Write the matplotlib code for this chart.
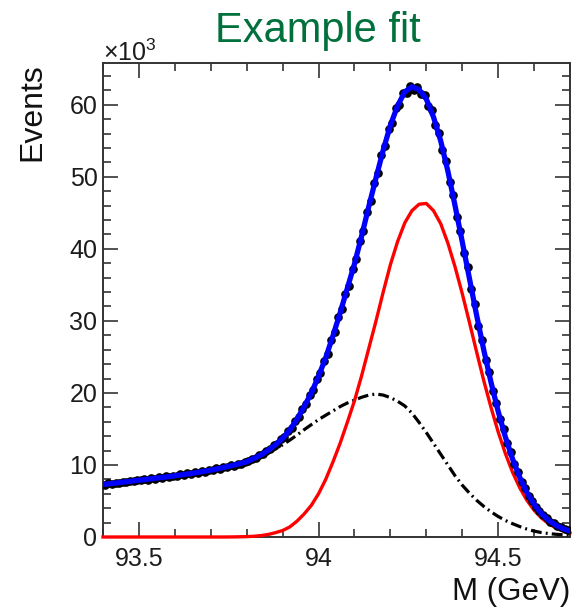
import matplotlib
matplotlib.use("Agg")
import matplotlib.pyplot as plt
import numpy as np
from matplotlib.ticker import MultipleLocator, FixedLocator

plt.rcParams['font.family'] = ['Liberation Sans', 'DejaVu Sans']
plt.rcParams['mathtext.fontset'] = 'custom'
plt.rcParams['mathtext.rm'] = 'Liberation Sans'
plt.rcParams['mathtext.it'] = 'Liberation Sans:italic'

# ---- fit components, sampled every 20 MeV from 93.40 to 94.70 GeV (units: 10^3 events)
fit_mass = np.linspace(93.40, 94.70, 66)

signal_fit = [
    0, 0, 0, 0, 0, 0, 0, 0, 0, 0, 0, 0, 0, 0, 0, 0, 0, 0,
    0.01, 0.03, 0.05, 0.10, 0.20, 0.35, 0.60, 0.90, 1.40, 2.20,
    3.20, 4.40, 6.00, 8.00, 10.40, 13.00, 15.90, 18.90, 22.40, 26.20,
    30.00, 34.00, 37.80, 41.00, 43.60, 45.30, 46.20, 46.30, 45.30, 43.50,
    40.80, 37.50, 33.80, 29.80, 25.70, 21.70, 18.00, 14.60, 11.60, 9.00,
    6.84, 5.10, 3.72, 2.66, 1.86, 1.28, 0.85, 0.56,
]

background_fit = [
    7.30,
    7.40, 7.52, 7.64, 7.76, 7.88,
    8.00, 8.12, 8.24, 8.36, 8.50,
    8.64, 8.78, 8.94, 9.10, 9.28,
    9.48, 9.70, 9.92, 10.15, 10.40,
    10.80, 11.20, 11.70, 12.20, 12.80,
    13.45, 14.15, 14.90, 15.60, 16.30,
    16.90, 17.50, 18.10, 18.60, 19.00,
    19.40, 19.70, 19.85, 19.70, 19.35,
    18.85, 18.20, 17.20, 15.90, 14.50,
    13.00, 11.50, 10.00, 8.50, 7.20,
    6.10, 5.10, 4.25, 3.50, 2.85,
    2.30, 1.85, 1.45, 1.10, 0.82,
    0.62, 0.48, 0.38, 0.31, 0.26,
]

# ---- binned data: 130 bins of 10 MeV (units: 10^3 events)
bin_centers = np.linspace(93.405, 94.695, 130)

events = [
    7.28, 7.45, 7.39, 7.56, 7.50, 7.66, 7.60, 7.81, 7.74, 7.92,
    7.86, 8.03, 7.98, 8.16, 8.10, 8.27, 8.22, 8.41, 8.35, 8.52,
    8.48, 8.68, 8.62, 8.83, 8.77, 8.96, 8.91, 9.14, 9.09, 9.31,
    9.27, 9.51, 9.47, 9.72, 9.70, 9.95, 9.92, 10.20, 10.18, 10.47,
    10.49, 10.88, 10.95, 11.37, 11.48, 12.00, 12.15, 12.72, 12.94, 13.60,
    13.88, 14.69, 15.11, 16.12, 16.66, 17.82, 18.44, 19.70, 20.41, 21.90,
    22.76, 24.45, 25.44, 27.37, 28.48, 30.55, 31.62, 33.70, 34.86, 37.26,
    38.60, 41.12, 42.54, 45.18, 46.58, 49.18, 50.49, 53.06, 54.24, 56.62,
    57.50, 59.51, 60.02, 61.62, 61.70, 62.61, 62.12, 62.47, 61.50, 61.40,
    59.88, 59.25, 57.17, 56.14, 53.66, 52.15, 49.31, 47.49, 44.47, 42.53,
    39.46, 37.45, 34.37, 32.34, 29.35, 27.41, 24.61, 22.84, 20.28, 18.67,
    16.37, 14.97, 12.98, 11.77, 10.07, 9.06, 7.66, 6.83, 5.70, 5.04,
    4.16, 3.67, 2.99, 2.64, 2.12, 1.88, 1.50, 1.33, 1.05, 0.94,
]

total_fit = np.array(signal_fit) + np.array(background_fit)

x_ticks = [93.5, 94.0, 94.5]
x_tick_labels = ['93.5', '94', '94.5']

W, H = 572, 607
fig = plt.figure(figsize=(W / 100, H / 100), dpi=100)
ax = fig.add_axes([103 / W, 70 / H, 467 / W, 474 / H])

ax.plot(fit_mass, background_fit, color='black', lw=2.3,
        linestyle=(0, (3.4, 1.3, 0.6, 1.3)), zorder=3.0)
ax.plot(fit_mass, signal_fit, color='#ff0000', lw=2.4, zorder=3.2, clip_on=False)
ax.plot(bin_centers, events, 'o', color='black', ms=5.2, zorder=3.4)
ax.plot(fit_mass, total_fit, color='#0000ff', lw=3.8, zorder=3.6)

ax.set_xlim(93.4, 94.7)
ax.set_ylim(0, 65.8)
ax.xaxis.set_major_locator(FixedLocator(x_ticks))
ax.set_xticklabels(x_tick_labels)
ax.xaxis.set_minor_locator(MultipleLocator(0.1))
ax.yaxis.set_major_locator(MultipleLocator(10))
ax.yaxis.set_minor_locator(MultipleLocator(2))

ax.tick_params(which='both', direction='in', top=True, right=True,
               color='#333333', labelcolor='#1c1c1c', labelsize=18)
ax.tick_params(which='major', length=11, width=1.2)
ax.tick_params(which='minor', length=6, width=1.2)
ax.tick_params(axis='x', which='both', pad=7)
ax.tick_params(axis='y', which='both', pad=4)
for sp in ax.spines.values():
    sp.set_linewidth(1.4)
    sp.set_color('#333333')

fig.text(32 / W, 1 - 63 / H, 'Events', rotation=90, ha='center', va='top',
         fontsize=23, color='#111111')
fig.text(570 / W, 1 - 600 / H, 'M (GeV)', ha='right', va='baseline',
         fontsize=22.5, color='#111111')
fig.text(103 / W, 1 - 61 / H, r'$\times10^{3}$', ha='left', va='baseline',
         fontsize=18, color='#1c1c1c')
fig.text(318 / W, 1 - 42 / H, 'Example fit', ha='center', va='baseline',
         fontsize=30, color='#00703c')

fig.savefig('out.png', dpi=100)
